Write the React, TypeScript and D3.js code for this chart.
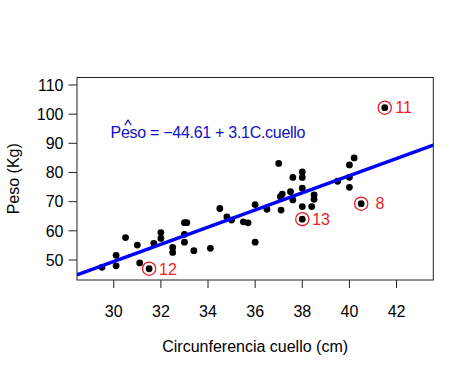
import React from "react";
import * as d3 from "d3";

// Data
const neckCm = [
  29.5, 30.1, 30.1, 30.5, 31.0, 31.1, 31.5, 31.7, 32.0, 32.0, 32.5, 32.5,
  33.0, 33.1, 33.0, 33.0, 33.4, 34.1, 34.5, 34.8, 35.0, 35.5, 35.7, 36.0,
  36.0, 36.5, 37.0, 37.1, 37.15, 37.07, 37.5, 37.6, 37.6, 38.0, 38.0, 38.0,
  38.0, 38.0, 38.4, 38.5, 38.5, 39.5, 40.0, 40.0, 40.0, 40.2, 40.5, 41.5,
];
const weightKg = [
  47.5, 51.6, 48.0, 57.7, 55.1, 49.0, 47.0, 55.7, 59.4, 57.4, 54.3, 52.6,
  62.8, 62.8, 58.8, 56.1, 53.2, 54.0, 67.65, 64.8, 63.7, 63.1, 62.75, 69.0,
  56.1, 67.4, 83.1, 67.1, 72.6, 71.7, 73.4, 78.3, 70.6, 80.2, 78.3, 74.6,
  68.3, 64.0, 68.3, 72.3, 70.8, 77.0, 78.35, 74.9, 82.6, 85.0, 69.3, 102.2,
];
const flaggedIndex = [6, 37, 46, 47];
const flaggedLabels = ["12", "13", "8", "11"];

const xTicks = [30, 32, 34, 36, 38, 40, 42];
const yTicks = [50, 60, 70, 80, 90, 100, 110];
const xLimits = [28.44, 43.56];
const yLimits = [43.14, 112.56];

// fitted line as drawn in the picture
const lineIntercept = -38.7;
const lineSlope = 2.94;

const xTitle = "Circunferencia cuello (cm)";
const yTitle = "Peso (Kg)";
const eqText = "Peso = \u221244.61 + 3.1C.cuello";
const eqPosition = [34.0, 91.75];
const labelOffsetCm = 0.8;

const W = 474;
const H = 379;
const L = 77;
const R = 433.3;
const T = 77.5;
const B = 280;

const FONT = "'Liberation Sans', Arial, Helvetica, sans-serif";
const RED = "#ee1c24";

export default function App() {
  const x = d3.scaleLinear().domain(xLimits).range([L, R]);
  const y = d3.scaleLinear().domain(yLimits).range([B, T]);

  const lineX0 = xLimits[0];
  const lineX1 = xLimits[1];
  const line = d3.line<number>()
    .x((d) => x(d))
    .y((d) => y(lineIntercept + lineSlope * d));

  const eqX = x(eqPosition[0]);
  const eqY = y(eqPosition[1]);
  const eqWidth = 195;
  const hatCx = eqX - eqWidth / 2 + 17.5;

  return (
    <svg
      width={W}
      height={H}
      style={{ position: "absolute", left: 0, top: 0, background: "#fff" }}
      fontFamily={FONT}
    >
      <rect x={0} y={0} width={W} height={H} fill="#fff" />
      <defs>
        <clipPath id="plotclip">
          <rect x={L} y={T} width={R - L} height={B - T} />
        </clipPath>
      </defs>

      {/* points */}
      {neckCm.map((c, i) => (
        <circle key={i} cx={x(c)} cy={y(weightKg[i])} r={3.4} fill="#000" />
      ))}

      {/* flagged circles and labels */}
      {flaggedIndex.map((idx, k) => (
        <g key={"f" + k}>
          <circle
            cx={x(neckCm[idx])}
            cy={y(weightKg[idx])}
            r={6.6}
            fill="none"
            stroke={RED}
            strokeWidth={1.3}
          />
          <text
            x={x(neckCm[idx] + labelOffsetCm)}
            y={y(weightKg[idx])}
            dy="0.36em"
            textAnchor="middle"
            fontSize={16}
            fill={RED}
          >
            {flaggedLabels[k]}
          </text>
        </g>
      ))}

      {/* regression line */}
      <path
        d={line([lineX0, lineX1]) || ""}
        stroke="#0000ff"
        strokeWidth={3.4}
        fill="none"
        clipPath="url(#plotclip)"
      />

      {/* equation */}
      <text
        x={eqX}
        y={eqY}
        textAnchor="middle"
        fontSize={16}
        fill="#1010c8"
        textLength={eqWidth}
        lengthAdjust="spacing"
        style={{ whiteSpace: "pre" }}
      >
        {eqText}
      </text>
      <path
        d={`M${hatCx - 3.2},${eqY - 13} L${hatCx},${eqY - 18} L${hatCx + 3.2},${eqY - 13}`}
        stroke="#1010c8"
        strokeWidth={1.2}
        fill="none"
      />

      {/* box */}
      <rect x={L} y={T} width={R - L} height={B - T} fill="none" stroke="#222" strokeWidth={1} />

      {/* x axis */}
      {xTicks.map((t) => (
        <g key={"x" + t}>
          <line x1={x(t)} x2={x(t)} y1={B} y2={B + 8} stroke="#222" strokeWidth={1} />
          <text x={x(t)} y={317} textAnchor="middle" fontSize={16} fill="#000">
            {t}
          </text>
        </g>
      ))}
      {/* y axis */}
      {yTicks.map((t) => (
        <g key={"y" + t}>
          <line x1={L - 8.5} x2={L} y1={y(t)} y2={y(t)} stroke="#222" strokeWidth={1} />
          <text x={63.5} y={y(t)} dy="0.36em" textAnchor="end" fontSize={16} fill="#000">
            {t}
          </text>
        </g>
      ))}

      <text x={(L + R) / 2} y={352} textAnchor="middle" fontSize={16} fill="#000">
        {xTitle}
      </text>
      <text
        transform={`translate(18.5, ${(T + B) / 2}) rotate(-90)`}
        textAnchor="middle"
        fontSize={16}
        fill="#000"
      >
        {yTitle}
      </text>
    </svg>
  );
}
